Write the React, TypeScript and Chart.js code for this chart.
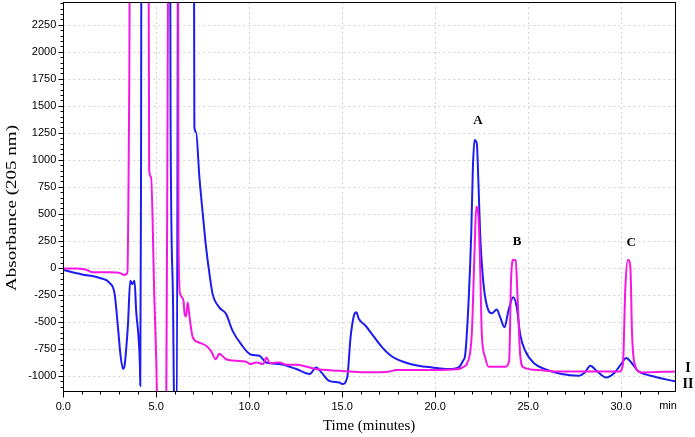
import React, { useEffect, useRef } from "react";
import { Chart, registerables } from "chart.js";

Chart.register(...registerables);

// Trace I (magenta)
const timeI = [
  0, 0.6, 1.2, 1.6, 2.5, 3.0, 3.3, 3.45, 3.5, 3.55, 3.62, 4.55, 4.62, 4.72, 4.9, 5.0, 5.08,
  5.53, 5.62, 5.7, 6.15, 6.2, 6.28, 6.46, 6.52, 6.6, 6.69, 6.78, 6.96, 7.3, 7.68, 7.95, 8.2,
  8.39, 8.75, 9.3, 9.8, 10.05, 10.4, 10.75, 10.93, 11.1, 11.63, 12.0, 12.55, 13.1, 13.6, 14.85,
  15.4, 16.3, 17.5, 17.9, 19.8, 21.26, 21.62, 21.7, 21.97, 22.12, 22.21, 22.33, 22.42, 22.51,
  22.69, 22.87, 23.76, 23.98, 24.08, 24.2, 24.33, 24.44, 24.57, 24.75, 25.55, 26.45, 28.2,
  29.93, 30.1, 30.23, 30.37, 30.5, 30.59, 30.73, 31.09, 32.9,
];
const absI = [
  -5, -5, -15, -40, -40, -45, -65, -40, 600, 1750, 5000, 5000, 900, 840, -300, -850, -1500,
  -1500, 2080, 5000, 5000, 200, -240, -300, -420, -450, -320, -440, -640, -690, -720, -770, -845,
  -795, -845, -860, -865, -890, -875, -890, -828, -880, -875, -895, -895, -915, -936, -952,
  -958, -965, -960, -945, -945, -936, -905, -890, -612, 160, 565, 470, 6, -612,
  -828, -915, -915, -859, -118, 75, 68, -303, -797, -921, -945, -958, -958,
  -958, -890, -180, 75, 6, -612, -890, -967, -958,
];

// Trace II (blue)
const timeII = [
  0, 1.0, 2.0, 2.5, 2.76, 2.94, 3.07, 3.21, 3.3, 3.39, 3.48, 3.6, 3.71, 3.83, 3.92, 4.05, 4.12,
  4.14, 4.18, 4.22, 5.72, 5.77, 5.9, 5.98, 6.1, 6.2, 7.0, 7.05, 7.14, 7.32, 7.5, 7.68, 7.86,
  8.03, 8.39, 8.75, 9.1, 9.55, 10.1, 10.55, 10.9, 11.63, 12.53, 13.25, 13.6, 13.88, 14.3,
  14.85, 15.0, 15.27, 15.45, 15.63, 15.76, 15.9, 16.26, 16.6, 17.15, 17.7, 18.4, 19.1, 19.83,
  20.7, 21.26, 21.5, 21.62, 21.8, 21.94, 22.03, 22.12, 22.24, 22.33, 22.42, 22.6, 22.87, 23.05,
  23.31, 23.5, 23.73, 23.94, 24.2, 24.39, 24.57, 24.84, 25.37, 25.91, 26.8, 27.7, 28.05, 28.35,
  28.68, 29.2, 29.66, 30.0, 30.28, 30.55, 30.9, 31.6, 32.9,
];
const absII = [
  -20, -60, -95, -140, -240, -550, -795, -935, -900, -735, -518, -118, -150, -118, -400, -650,
  -900, -1090, 800, 5000, 5000, 1410, -300, -1500, -1500, 5000, 5000, 1300, 1257, 840, 503, 191,
  -53, -240, -365, -425, -580, -703, -803, -812, -875, -890, -936, -982, -921, -967, -1045,
  -1060, -1075, -1014, -643, -442, -411, -473, -535, -612, -735, -822, -875, -905, -921,
  -936, -921, -859, -797, -303, 315, 932, 1185, 1150, 778, 315, -148, -396, -420,
  -385, -458, -550, -396, -272, -365, -612, -766, -890, -936, -982, -998, -967, -905,
  -952, -1014, -967, -890, -834, -875, -952, -998, -1050,
];

const xTickValues = [0, 5, 10, 15, 20, 25, 30];
const yTickValues = [-1000, -750, -500, -250, 0, 250, 500, 750, 1000, 1250, 1500, 1750, 2000, 2250];

const peakLabels = ["A", "B", "C"];
const peakTimes = [22.3, 24.4, 30.54];
const peakHeights = [1366, 246, 237];

const traceLabels = ["I", "II"];
const xTitle = "Time (minutes)";
const yTitle = "Absorbance (205 nm)";
const unitLabel = "min";

const MAGENTA = "#f516e4";
const BLUE = "#1c1cf0";

export default function App() {
  const ref = useRef<HTMLCanvasElement | null>(null);

  useEffect(() => {
    document.body.style.margin = "0";
    const canvas = ref.current;
    if (!canvas) return;

    const decor = {
      id: "decor",
      beforeDatasetsDraw(chart: any) {
        const { ctx, chartArea: a, scales } = chart;
        const x = scales.x;
        const y = scales.y;
        ctx.save();
        ctx.strokeStyle = "#d2d2d2";
        ctx.lineWidth = 1;
        ctx.setLineDash([2, 3]);
        for (const v of yTickValues) {
          const py = Math.round(y.getPixelForValue(v)) + 0.5;
          ctx.beginPath();
          ctx.moveTo(a.left, py);
          ctx.lineTo(a.right, py);
          ctx.stroke();
        }
        for (const v of xTickValues) {
          if (v === 0) continue;
          const px = Math.round(x.getPixelForValue(v)) + 0.5;
          ctx.beginPath();
          ctx.moveTo(px, a.top);
          ctx.lineTo(px, a.bottom);
          ctx.stroke();
        }
        ctx.restore();
      },
      afterDatasetsDraw(chart: any) {
        const { ctx, chartArea: a, scales } = chart;
        const x = scales.x;
        const y = scales.y;
        const L = Math.round(a.left) + 0.5;
        const R = Math.round(a.right) + 0.5;
        const T = Math.round(a.top) + 0.5;
        const B = Math.round(a.bottom) + 0.5;
        ctx.save();
        ctx.strokeStyle = "#000";
        ctx.lineWidth = 1;
        ctx.setLineDash([]);
        ctx.strokeRect(L, T, R - L, B - T);
        // y ticks (major 250, minor 50)
        ctx.beginPath();
        for (let v = -1100; v <= 2450; v += 50) {
          const py = Math.round(y.getPixelForValue(v)) + 0.5;
          const len = v % 250 === 0 ? 5 : 3;
          ctx.moveTo(L - len, py);
          ctx.lineTo(L, py);
        }
        // x ticks (major 5, minor 1)
        for (let v = 0; v <= 32; v += 1) {
          const px = Math.round(x.getPixelForValue(v)) + 0.5;
          const len = v % 5 === 0 ? 6 : 3;
          ctx.moveTo(px, B);
          ctx.lineTo(px, B + len);
        }
        ctx.stroke();

        ctx.fillStyle = "#000";
        // peak labels
        ctx.font = 'bold 13px "Liberation Serif"';
        ctx.textAlign = "center";
        ctx.textBaseline = "middle";
        peakLabels.forEach((lab, i) => {
          ctx.fillText(lab, x.getPixelForValue(peakTimes[i]), y.getPixelForValue(peakHeights[i]));
        });
        // trace labels
        ctx.font = 'bold 14px "Liberation Serif"';
        const lastI = absI[absI.length - 1];
        const lastII = absII[absII.length - 1];
        ctx.fillText(traceLabels[0], a.right + 13, y.getPixelForValue(lastI) - 3);
        ctx.fillText(traceLabels[1], a.right + 13, y.getPixelForValue(lastII) + 3);
        // unit label
        ctx.font = '11px "Liberation Sans"';
        ctx.fillText(unitLabel, a.right - 7, B + 14);
        // x title
        ctx.font = '15px "Liberation Serif"';
        ctx.fillText(xTitle, (a.left + a.right) / 2, 426);
        // y title
        ctx.save();
        ctx.translate(12, 208);
        ctx.rotate(-Math.PI / 2);
        ctx.font = '15px "Liberation Serif"';
        const w = ctx.measureText(yTitle).width;
        ctx.scale(166 / w, 1);
        ctx.fillText(yTitle, 0, 0);
        ctx.restore();
        ctx.restore();
      },
    };

    const chart = new Chart(canvas, {
      type: "line",
      data: {
        datasets: [
          {
            label: "I",
            data: timeI.map((t, i) => ({ x: t, y: absI[i] })),
            borderColor: MAGENTA,
            borderWidth: 2,
            pointRadius: 0,
            cubicInterpolationMode: "monotone",
            fill: false,
          },
          {
            label: "II",
            data: timeII.map((t, i) => ({ x: t, y: absII[i] })),
            borderColor: BLUE,
            borderWidth: 2,
            pointRadius: 0,
            cubicInterpolationMode: "monotone",
            fill: false,
          },
        ],
      },
      options: {
        responsive: false,
        animation: false,
        devicePixelRatio: 1,
        layout: { padding: { top: 2, right: 20, left: 0, bottom: 0 } },
        plugins: { legend: { display: false }, tooltip: { enabled: false } },
        scales: {
          x: {
            type: "linear",
            min: 0,
            max: 32.9,
            grid: { display: false, drawTicks: false },
            border: { display: false },
            afterBuildTicks: (s: any) => {
              s.ticks = xTickValues.map((v) => ({ value: v }));
            },
            afterFit: (s: any) => {
              s.height = 46;
              s.paddingLeft = 0;
              s.paddingRight = 0;
              s.paddingTop = 0;
              s.paddingBottom = 0;
            },
            ticks: {
              autoSkip: false,
              maxRotation: 0,
              padding: 9,
              color: "#000",
              font: { family: '"Liberation Sans"', size: 11 },
              callback: (v: any) => Number(v).toFixed(1),
            },
          },
          y: {
            type: "linear",
            min: -1139,
            max: 2461,
            grid: { display: false, drawTicks: false },
            border: { display: false },
            afterBuildTicks: (s: any) => {
              s.ticks = yTickValues.map((v) => ({ value: v }));
            },
            afterFit: (s: any) => {
              s.width = 63.3;
              s.paddingLeft = 0;
              s.paddingRight = 0;
              s.paddingTop = 0;
              s.paddingBottom = 0;
            },
            ticks: {
              autoSkip: false,
              padding: 7,
              color: "#000",
              font: { family: '"Liberation Sans"', size: 11 },
              callback: (v: any) => String(v),
            },
          },
        },
      },
      plugins: [decor],
    });
    return () => chart.destroy();
  }, []);

  return (
    <div style={{ width: 695, height: 437, background: "#fff" }}>
      <canvas ref={ref} width={695} height={437} style={{ display: "block" }} />
    </div>
  );
}
